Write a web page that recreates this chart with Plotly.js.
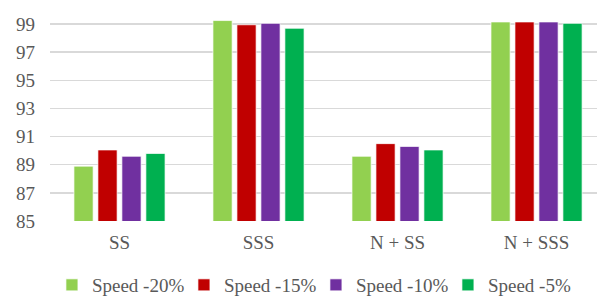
<!DOCTYPE html>
<html>
<head>
<meta charset="utf-8">
<script src="https://cdn.plot.ly/plotly-3.0.1.min.js"></script>
<style>
html,body{margin:0;padding:0;overflow:hidden;background:#fff}
</style>
</head>
<body>
<div id="chart" style="width:597px;height:298px"></div>
<script>
const categories = ["SS", "SSS", "N + SS", "N + SSS"];
const seriesNames = ["Speed -20%", "Speed -15%", "Speed -10%", "Speed -5%"];
const speed20 = [88.9, 99.25, 89.6, 99.15];
const speed15 = [90.05, 98.95, 90.5, 99.15];
const speed10 = [89.6, 99.05, 90.3, 99.15];
const speed5  = [89.8, 98.7, 90.05, 99.05];
const tickValues = [85, 87, 89, 91, 93, 95, 97, 99];
const colors = ["#92D050", "#C00000", "#7030A0", "#00B050"];

const allSeries = [speed20, speed15, speed10, speed5];
const traces = allSeries.map((vals, i) => ({
  type: "bar",
  name: seriesNames[i],
  x: categories,
  y: vals,
  marker: {color: colors[i], line: {color: "rgba(255,255,255,0.7)", width: 1}},
  hoverinfo: "x+y+name"
}));

function mkFont() { return {family: "Liberation Serif, Times New Roman, serif", size: 19, color: "#595959"}; }

const layout = {
  width: 597, height: 298,
  margin: {l: 50, r: 0, t: 10, b: 77},
  paper_bgcolor: "#fff", plot_bgcolor: "#fff",
  font: mkFont(),
  barmode: "group",
  bargap: 0.31,
  bargroupgap: 0.2,
  showlegend: true,
  legend: {
    orientation: "h",
    xref: "container", yref: "container",
    x: 0.087, y: 1 - 285/298,
    xanchor: "left", yanchor: "middle",
    font: mkFont(),
    itemwidth: 30,
    entrywidth: 87,
    traceorder: "normal"
  },
  xaxis: {
    type: "category",
    range: [-0.5, 3.435],
    showgrid: false,
    showline: false,
    zeroline: false,
    ticks: "",
    ticklabelstandoff: 8,
    tickfont: mkFont()
  },
  yaxis: {
    range: [85, 100],
    tickvals: tickValues,
    ticktext: tickValues.map(String),
    showgrid: true,
    gridcolor: "#D9D9D9",
    gridwidth: 1.5,
    zeroline: false,
    showline: false,
    ticks: "",
    ticklabelstandoff: 14,
    tickfont: mkFont()
  }
};

Plotly.newPlot("chart", traces, layout, {displayModeBar: false, staticPlot: true});
</script>
</body>
</html>
